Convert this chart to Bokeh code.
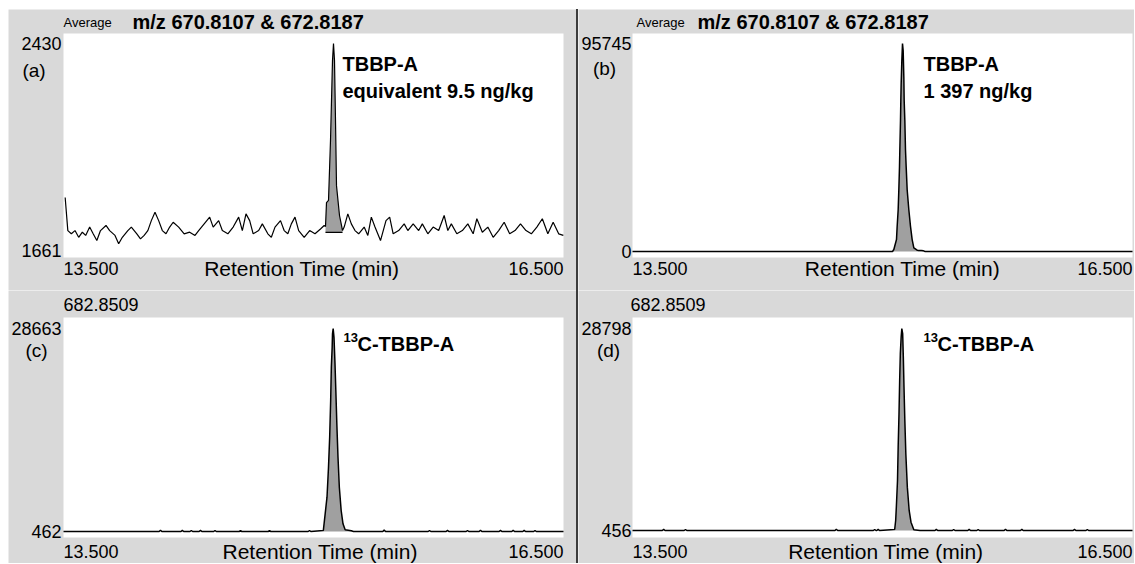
from bokeh.plotting import figure
from bokeh.models import Range1d, Label, BoxAnnotation, Spacer
from bokeh.layouts import row, column
from bokeh.embed import file_html
from bokeh.resources import INLINE

# ---------------- data ----------------
x_start, x_end = 13.5, 16.5
x_tick_labels = ["13.500", "16.500"]
x_title = "Retention Time (min)"

# panel (a): m/z 670.8107 & 672.8187, noisy trace with small peak
a_range = (1661, 2430)
a_time = [13.510, 13.526, 13.547, 13.569, 13.591, 13.613, 13.633, 13.657, 13.678, 13.700,
          13.722, 13.755, 13.777, 13.809, 13.831, 13.853, 13.886, 13.907, 13.940, 13.962,
          13.984, 14.006, 14.027, 14.049, 14.071, 14.093, 14.115, 14.137, 14.158, 14.191,
          14.224, 14.257, 14.289, 14.311, 14.344, 14.377, 14.398, 14.431, 14.453, 14.486,
          14.518, 14.551, 14.573, 14.595, 14.617, 14.638, 14.671, 14.693, 14.726, 14.747,
          14.769, 14.802, 14.824, 14.846, 14.867, 14.889, 14.911, 14.944, 14.977, 15.009,
          15.042, 15.064,
          15.072, 15.078, 15.090, 15.096, 15.102, 15.108, 15.114, 15.120, 15.126, 15.132,
          15.138, 15.144, 15.156, 15.168, 15.174,
          15.184, 15.206, 15.227, 15.249, 15.271, 15.304, 15.326, 15.347, 15.369, 15.402,
          15.435, 15.457, 15.478, 15.511, 15.544, 15.566, 15.598, 15.631, 15.653, 15.686,
          15.718, 15.751, 15.784, 15.806, 15.827, 15.860, 15.893, 15.926, 15.958, 15.980,
          16.013, 16.046, 16.078, 16.111, 16.144, 16.177, 16.209, 16.242, 16.275, 16.307,
          16.340, 16.373, 16.406, 16.438, 16.471, 16.499]
a_signal = [1858, 1735, 1723, 1735, 1710, 1729, 1717, 1748, 1723, 1698,
            1735, 1754, 1735, 1717, 1686, 1710, 1735, 1748, 1723, 1704,
            1717, 1735, 1772, 1803, 1772, 1735, 1723, 1748, 1766, 1748,
            1723, 1729, 1717, 1735, 1760, 1785, 1748, 1772, 1735, 1723,
            1748, 1785, 1735, 1797, 1772, 1723, 1735, 1760, 1723, 1710,
            1748, 1772, 1735, 1723, 1760, 1785, 1735, 1710, 1735, 1723,
            1741, 1754,
            1750, 1839, 1847, 1958, 2070, 2218, 2367, 2430, 2367, 2144,
            1902, 1865, 1791, 1754, 1735,
            1748, 1797, 1760, 1735, 1723, 1748, 1717, 1785, 1748, 1698,
            1772, 1785, 1723, 1735, 1760, 1735, 1760, 1735, 1760, 1723,
            1748, 1735, 1791, 1735, 1760, 1723, 1735, 1760, 1723, 1779,
            1729, 1748, 1710, 1735, 1766, 1723, 1735, 1760, 1735, 1723,
            1748, 1779, 1723, 1766, 1723, 1717]
a_peak_window = (15.072, 15.174)
a_peak_base = 1728

# panel (b): m/z 670.8107 & 672.8187, sample
b_range = (0, 95745)
b_time = [13.500, 15.060, 15.068, 15.084, 15.088, 15.094, 15.098, 15.102, 15.104, 15.108,
          15.110, 15.112, 15.116, 15.120, 15.124, 15.128, 15.130, 15.134, 15.138, 15.142,
          15.148, 15.158, 15.168, 15.178, 15.188, 15.208, 15.218, 15.232, 15.246, 15.256,
          16.500]
b_signal = [0, 0, 916, 5500, 11590, 19240, 28400, 39070, 46720, 60460,
            69620, 77270, 87950, 95745, 92500, 80300, 69600, 60460, 46720, 39070,
            28400, 19240, 11590, 5500, 1700, 600, 500, 450, 300, 0,
            0]
b_peak_window = (15.060, 15.256)

# panel (c): 682.8509 (13C-TBBP-A)
c_range = (462, 28663)
c_time = [13.500,
          14.074, 14.082, 14.090, 14.205, 14.213, 14.221, 14.259, 14.267, 14.275,
          14.314, 14.322, 14.330, 14.401, 14.409, 14.417, 14.554, 14.562, 14.570,
          14.728, 14.736, 14.744, 14.968, 14.976, 14.984,
          15.059, 15.070, 15.081, 15.090, 15.097, 15.103, 15.107, 15.112, 15.114, 15.118,
          15.123, 15.129, 15.134, 15.140, 15.147, 15.155, 15.166, 15.177, 15.190, 15.227,
          15.240,
          15.416, 15.424, 15.432, 15.688, 15.696, 15.704, 15.796, 15.804, 15.812,
          15.916, 15.924, 15.932, 15.994, 16.002, 16.010, 16.114, 16.122, 16.130,
          16.190, 16.198, 16.206, 16.256, 16.264, 16.272, 16.321, 16.329, 16.337,
          16.500]
c_signal = [462,
            462, 640, 462, 462, 620, 462, 462, 600, 462,
            462, 620, 462, 462, 600, 462, 462, 580, 462,
            462, 580, 462, 462, 600, 462,
            600, 2920, 5230, 9390, 13560, 18660, 23280, 26060, 27920, 28663,
            27450, 23750, 20050, 15420, 10780, 6610, 3380, 1530, 700, 560,
            462,
            462, 680, 462, 462, 600, 462, 462, 620, 462,
            462, 600, 462, 462, 640, 462, 462, 620, 462,
            462, 640, 462, 462, 620, 462, 462, 600, 462,
            462]
c_peak_window = (15.059, 15.240)

# panel (d): 682.8509 (13C-TBBP-A), sample
d_range = (456, 28798)
d_time = [13.500,
          13.679, 13.687, 13.695, 13.810, 13.818, 13.826, 14.715, 14.723, 14.731,
          14.945, 14.953, 14.961, 14.966, 14.974, 14.982,
          15.073, 15.079, 15.083, 15.090, 15.094, 15.099, 15.103, 15.107, 15.112, 15.116,
          15.121, 15.125, 15.129, 15.134, 15.140, 15.149, 15.160, 15.171, 15.188, 15.225,
          15.315, 15.323, 15.331, 15.419, 15.427, 15.435, 15.512, 15.520, 15.528,
          15.566, 15.574, 15.582, 15.730, 15.738, 15.746, 15.828, 15.836, 15.844,
          16.144, 16.152, 16.160, 16.221, 16.229, 16.237,
          16.500]
d_signal = [456,
            456, 620, 456, 456, 600, 456, 456, 640, 456,
            456, 600, 456, 456, 620, 456,
            600, 1860, 3730, 7480, 12160, 16850, 21530, 25280, 27620, 28798,
            28090, 24800, 20590, 15910, 11230, 6540, 3270, 1620, 550, 456,
            456, 620, 456, 456, 600, 456, 456, 620, 456,
            456, 600, 456, 456, 640, 456, 456, 620, 456,
            456, 620, 456, 456, 600, 456,
            456]
d_peak_window = (15.073, 15.225)

title_small = "Average"
title_mz = "m/z 670.8107 & 672.8187"
title_13c = "682.8509"
letters = ["(a)", "(b)", "(c)", "(d)"]
ann_a = ["TBBP-A", "equivalent 9.5 ng/kg"]
ann_b = ["TBBP-A", "1 397 ng/kg"]
ann_sup = "13"
ann_c = "C-TBBP-A"

# ---------------- styling ----------------
GRAY = "#d9d9d9"
FILL = "#a0a0a0"
FONT = "Liberation Sans"
TICK = "18px"


def make_panel(width, height, x0_px, x_px, yr, ylo_px, yhi_px, white_bottom, white_top):
    """Frame covers the whole figure; x_start maps to x0_px, x_end to x0_px + x_px;
    y min/max map to ylo_px / yhi_px (measured from the bottom)."""
    lo, hi = yr
    xs = (x_end - x_start) / x_px
    xr0 = x_start - x0_px * xs
    ys = (hi - lo) / (yhi_px - ylo_px)
    yr0 = lo - ylo_px * ys
    p = figure(width=width, height=height,
               x_range=Range1d(xr0, xr0 + width * xs),
               y_range=Range1d(yr0, yr0 + height * ys),
               output_backend="svg", toolbar_location=None, tools="",
               x_axis_location=None, y_axis_location=None, min_border=0,
               background_fill_color=GRAY, border_fill_color=GRAY,
               outline_line_color=None)
    p.grid.visible = False
    p.add_layout(BoxAnnotation(left=x_start, right=x_end,
                               bottom=white_bottom, top=white_top,
                               bottom_units="screen", top_units="screen",
                               fill_color="white", fill_alpha=1.0,
                               line_color=None, level="underlay"))
    return p


def lab(p, text, x, y, size=TICK, bold=False, align="left",
        xu="screen", yu="screen", x_offset=0):
    p.add_layout(Label(x=x, y=y, x_units=xu, y_units=yu, text=text,
                       x_offset=x_offset,
                       text_font=FONT, text_font_size=size,
                       text_font_style="bold" if bold else "normal",
                       text_align=align, text_baseline="middle", text_color="black"))


def draw(p, t, s, window, base, lw=1.3):
    pt_ = [x for x in t if window[0] <= x <= window[1]]
    ps_ = [max(v, base) for x, v in zip(t, s) if window[0] <= x <= window[1]]
    p.varea(x=pt_, y1=[base] * len(pt_), y2=ps_, fill_color=FILL)
    p.line(t, s, line_color="black", line_width=lw)


def y_labels(p, yr, xpx):
    lab(p, str(yr[1]), xpx, yr[1], align="right", yu="data")
    lab(p, str(yr[0]), xpx, yr[0], align="right", yu="data")


def x_labels(p, y, title_x):
    lab(p, x_tick_labels[0], x_start, y, xu="data")
    lab(p, x_tick_labels[1], x_end, y, align="right", xu="data")
    lab(p, x_title, title_x, y, size="21px", align="center", xu="data")


TOP_H, BOT_H = 281, 273   # page rows: 9..290 and 290..563

# ---- top row (figure y measured from page y 290) ----
pa = make_panel(568, TOP_H, 55, 500, a_range, 40, 247, 33, 257)
draw(pa, a_time, a_signal, a_peak_window, a_peak_base, lw=1.2)
pa.line(list(a_peak_window), [a_peak_base, a_peak_base], line_color="black", line_width=1.3)
y_labels(pa, a_range, 53)
lab(pa, title_small, 55, 268, size="13px")
lab(pa, title_mz, 124, 269, size="20px", bold=True)
lab(pa, letters[0], 25.5, 220, size="19px", align="center")
lab(pa, ann_a[0], 15.174, 227, size="20px", bold=True, xu="data")
lab(pa, ann_a[1], 15.174, 200, size="20px", bold=True, xu="data")
x_labels(pa, 22, 14.93)

pb = make_panel(556, TOP_H, 54, 500, b_range, 39, 247, 33, 257)
draw(pb, b_time, b_signal, b_peak_window, b_range[0], lw=1.5)
y_labels(pb, b_range, 53)
lab(pb, title_small, 58, 268, size="13px")
lab(pb, title_mz, 119, 269, size="20px", bold=True)
lab(pb, letters[1], 26, 222, size="19px", align="center")
lab(pb, ann_b[0], 15.246, 227, size="20px", bold=True, xu="data")
lab(pb, ann_b[1], 15.246, 200, size="20px", bold=True, xu="data")
x_labels(pb, 22, 15.12)

# ---- bottom row (figure y measured from page y 563) ----
pc = make_panel(568, BOT_H, 55, 500, c_range, 32, 235, 26, 246)
draw(pc, c_time, c_signal, c_peak_window, c_range[0], lw=1.5)
y_labels(pc, c_range, 53)
lab(pc, title_13c, 55, 259)
lab(pc, letters[2], 28, 213, size="19px", align="center")
lab(pc, ann_sup, 15.18, 226, size="13px", bold=True, xu="data")
lab(pc, ann_c, 15.18, 220, size="20px", bold=True, xu="data", x_offset=14)
x_labels(pc, 12, 15.04)

pd_ = make_panel(556, BOT_H, 54, 500, d_range, 33, 235, 26, 246)
draw(pd_, d_time, d_signal, d_peak_window, d_range[0], lw=1.5)
y_labels(pd_, d_range, 53)
lab(pd_, title_13c, 52, 259)
lab(pd_, letters[3], 30, 213, size="19px", align="center")
lab(pd_, ann_sup, 15.246, 226, size="13px", bold=True, xu="data")
lab(pd_, ann_c, 15.246, 220, size="20px", bold=True, xu="data", x_offset=14)
x_labels(pd_, 12, 15.02)

divider = Spacer(width=2, height=TOP_H + BOT_H, styles={"background-color": "#3c3c3c"})
layout = column(Spacer(width=1134, height=9),
                row(Spacer(width=8, height=TOP_H + BOT_H),
                    column(pa, pc), divider, column(pb, pd_)))

open("out.html", "w").write(file_html(layout, INLINE))
